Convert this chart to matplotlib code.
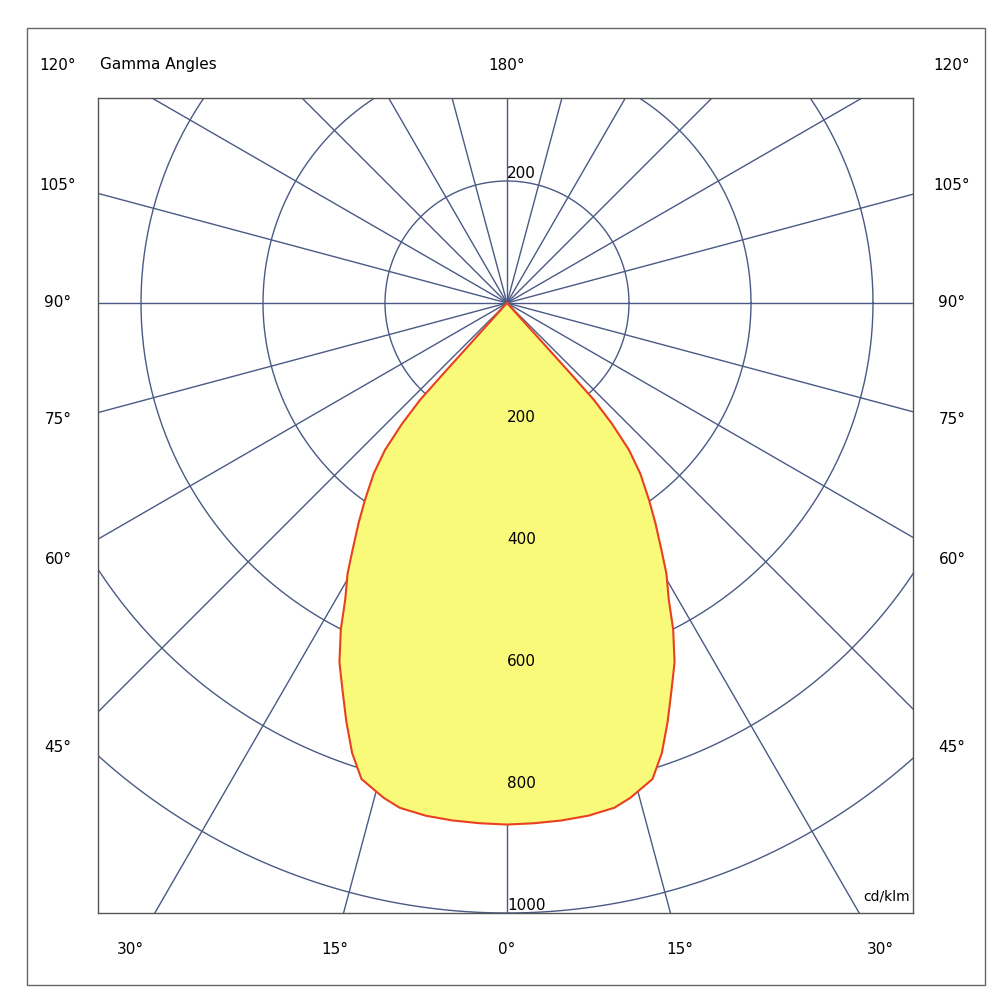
import numpy as np
import matplotlib
matplotlib.use("Agg")
import matplotlib.pyplot as plt

# data: gamma angle (deg from nadir), intensity cd/klm (one half, mirrored)
gamma = [0, 3, 6, 9, 12, 14, 17, 19, 21, 23, 25, 27, 28.6, 30.5, 32, 34, 35.8, 38, 39.7, 41, 41.9, 42, 42, 42]
intensity = [855, 854, 853, 851, 846, 836, 816, 780, 735, 690, 650, 600, 554, 515, 478, 435, 398, 355, 313, 262, 213, 150, 80, 0]
ring_values = [200, 400, 600, 800, 1000]
side_labels = ["120°", "105°", "90°", "75°", "60°", "45°"]
side_label_y = [65, 185, 303, 420, 560, 748]
bottom_labels = ["30°", "15°", "0°", "15°", "30°"]
bottom_label_x = [130, 335, 507, 680, 880]

W, H = 994, 1000
fig = plt.figure(figsize=(W/100, H/100), dpi=100)
L, R, T, B = 98, 913, 98, 913
cx, cy = 507, 303
scale = 610/1000
ax = fig.add_axes([L/W, 1-B/H, (R-L)/W, (B-T)/H])
ax.set_xlim((L-cx)/scale, (R-cx)/scale)
ax.set_ylim(-(B-cy)/scale, (cy-T)/scale)
ax.set_aspect('auto')
ax.set_xticks([]); ax.set_yticks([])
for s in ax.spines.values():
    s.set_color('#555555'); s.set_linewidth(1)

gc = '#4a5a85'
t = np.linspace(0, 2*np.pi, 400)
for rv in ring_values:
    ax.plot(rv*np.cos(t), rv*np.sin(t), color=gc, lw=1)
for a in range(0, 360, 15):
    ar = np.radians(a)
    ax.plot([0, 2000*np.sin(ar)], [0, -2000*np.cos(ar)], color=gc, lw=1)

g = np.radians(np.array(gamma)); I = np.array(intensity)
xr = I*np.sin(g); yr = -I*np.cos(g)
xs = np.concatenate([-xr[::-1], xr]); ys = np.concatenate([yr[::-1], yr])
ax.fill(xs, ys, color='#f9f97a', zorder=3)
ax.plot(xs, ys, color='#e84020', lw=1.5, zorder=4)

ax.text(0, 200, "200", ha='left', va='bottom', fontsize=11, zorder=5)
for rv in ring_values:
    ax.text(0, -rv, str(rv), ha='left', va='bottom', fontsize=11, zorder=5)
ax.text((R-cx)/scale-5, -(B-cy)/scale+15, "cd/klm", ha='right', va='bottom', fontsize=10, zorder=5)

fig.add_artist(plt.Rectangle((27/W, 1-985/H), (985-27)/W, (985-28)/H,
               transform=fig.transFigure, fill=False, ec='#666666', lw=1))
for lab, y in zip(side_labels, side_label_y):
    fig.text(58/W, 1-y/H, lab, ha='center', va='center', fontsize=11)
    fig.text(952/W, 1-y/H, lab, ha='center', va='center', fontsize=11)
fig.text(100/W, 1-65/H, "Gamma Angles", ha='left', va='center', fontsize=11)
fig.text(507/W, 1-65/H, "180°", ha='center', va='center', fontsize=11)
for lab, x in zip(bottom_labels, bottom_label_x):
    fig.text(x/W, 1-950/H, lab, ha='center', va='center', fontsize=11)

fig.savefig("out.png", dpi=100)
